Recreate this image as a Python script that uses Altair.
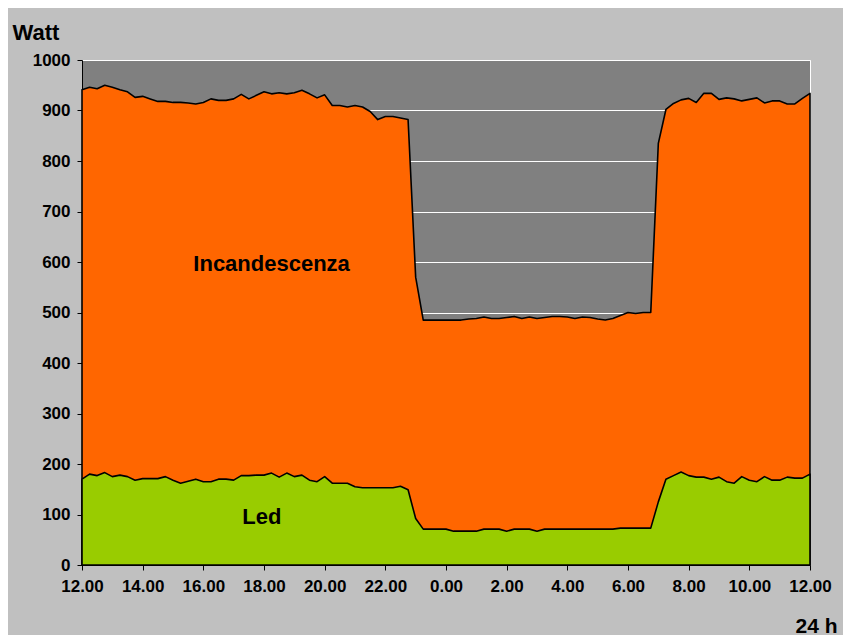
import json
import altair as alt
import pandas as pd

# Time grid: one reading every 15 minutes, starting at 12.00 (hour 0) to 12.00 next day (hour 24)
hours = [i * 0.25 for i in range(97)]

# Incandescenza (W)
incandescenza = [
    941, 946, 943, 950, 946, 941, 937, 926, 928, 923,
    918, 918, 916, 916, 915, 913, 916, 923, 920, 920,
    923, 932, 923, 930, 937, 933, 935, 933, 935, 940,
    933, 925, 931, 910, 910, 907, 910, 907, 898, 882,
    888, 888, 885, 882, 570, 485, 485, 485, 485, 485,
    485, 487, 488, 491, 488, 488, 490, 492, 488, 491,
    488, 490, 492, 492, 491, 488, 491, 490, 487, 485,
    488, 494, 500, 498, 500, 500, 835, 902, 914, 921,
    924, 916, 934, 934, 922, 925, 923, 919, 922, 925,
    915, 919, 919, 913, 913, 924, 934,
]

# Led (W)
led = [
    170, 180, 177, 183, 175, 178, 175, 168, 171, 171,
    171, 175, 168, 162, 166, 170, 165, 165, 170, 170,
    168, 177, 177, 178, 178, 182, 174, 182, 175, 178,
    168, 165, 175, 162, 162, 162, 155, 153, 153, 153,
    153, 153, 156, 149, 92, 71, 71, 71, 71, 67,
    67, 67, 67, 71, 71, 71, 67, 71, 71, 71,
    67, 71, 71, 71, 71, 71, 71, 71, 71, 71,
    71, 73, 73, 73, 73, 73, 125, 170, 177, 184,
    177, 174, 174, 170, 174, 165, 162, 175, 168, 165,
    175, 168, 168, 174, 172, 172, 180,
]

tick_labels = ["12.00", "14.00", "16.00", "18.00", "20.00", "22.00", "0.00",
               "2.00", "4.00", "6.00", "8.00", "10.00", "12.00"]
y_ticks = list(range(0, 1001, 100))
x_ticks = list(range(0, 25))

ann_text = ["Incandescenza", "Led"]
ann_x = [6.25, 5.93]
ann_y = [596, 95]

df = pd.DataFrame({"h": hours, "inc": incandescenza, "led": led})
ann = pd.DataFrame({"x": ann_x, "y": ann_y, "t": ann_text})

FONT = "Liberation Sans"

label_expr = ("datum.value % 2 == 0 ? " + json.dumps(tick_labels) +
              "[datum.value / 2] : ''")

x_enc = alt.X(
    "h:Q",
    scale=alt.Scale(domain=[0, 24], nice=False, zero=False),
    axis=alt.Axis(
        values=x_ticks, labelExpr=label_expr, title="24 h",
        labelFlush=False, labelOverlap=False, grid=False,
        tickSize=5, labelPadding=8,
        titleX=755, titleY=67, titleAlign="right", titleBaseline="alphabetic",
        titleFontSize=21, titleFontWeight="bold", titleFont=FONT,
    ),
)
y_scale = alt.Scale(domain=[0, 1000], nice=False)
y_axis = alt.Axis(
    values=y_ticks, format="d", title="Watt", grid=True,
    tickSize=5, labelPadding=7,
    titleAngle=0, titleX=-70, titleY=-21, titleAlign="left",
    titleBaseline="alphabetic", titleFontSize=22, titleFontWeight="bold",
    titleFont=FONT,
)

base = alt.Chart(df)

inc_area = base.mark_area(
    fill="#FF6600", fillOpacity=1, stroke="black", strokeWidth=1.6,
    strokeJoin="round",
).encode(x=x_enc, y=alt.Y("inc:Q", scale=y_scale, axis=y_axis, stack=None))

led_area = base.mark_area(
    fill="#99CC00", fillOpacity=1, stroke="black", strokeWidth=1.6,
    strokeJoin="round",
).encode(x="h:Q", y=alt.Y("led:Q", stack=None))

text = alt.Chart(ann).mark_text(
    font=FONT, fontSize=22, fontWeight="bold", color="black",
    align="center", baseline="middle",
).encode(x="x:Q", y="y:Q", text="t:N")

chart = (
    alt.layer(inc_area, led_area, text)
    .properties(
        width=728, height=505,
        autosize=alt.AutoSizeParams(type="none"),
        padding={"left": 74, "top": 52, "right": 33, "bottom": 70},
        background="#C0C0C0",
    )
    .configure_view(fill="#808080", stroke="white", strokeWidth=1)
    .configure_axis(
        domainColor="black", domainWidth=1, tickColor="black", tickWidth=1,
        labelColor="black", labelFont=FONT, labelFontSize=17,
        labelFontWeight="bold", titleColor="black",
        gridColor="white", gridWidth=1, gridOpacity=1,
    )
)

chart.save("out.html", embed_options={"renderer": "svg", "actions": False})
